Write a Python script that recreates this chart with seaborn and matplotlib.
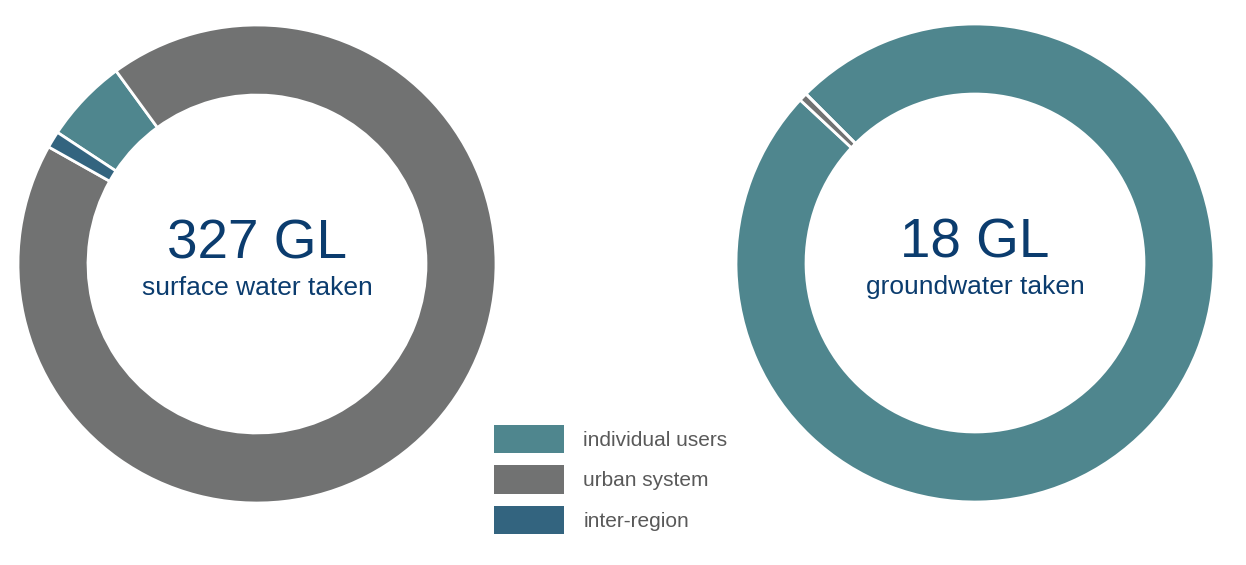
"""
Water taken by source — two donut charts with shared legend.
"""
import matplotlib
matplotlib.use('Agg')
import matplotlib.pyplot as plt
from matplotlib.patches import Patch
import seaborn as sns

# data (GL)
categories = ['individual users', 'urban system', 'inter-region']
surface_values = [18.6, 304.7, 3.7]
ground_values = [17.9, 0.1, 0.0]
totals = ['327 GL', '18 GL']
subtitles = ['surface water taken', 'groundwater taken']

sns.set_theme(style='white')
plt.rcParams['font.family'] = ['Liberation Sans', 'DejaVu Sans']
palette = sns.color_palette(['#4F868E', '#717272', '#33647F'])
text_blue = '#0B3C6E'

W, H = 1246, 565
fig = plt.figure(figsize=(W / 100, H / 100), dpi=100)
fig.patch.set_facecolor('white')


def donut(cx, cy, r, values, start, total, subtitle):
    ax = fig.add_axes([(cx - r) / W, (H - cy - r) / H, 2 * r / W, 2 * r / H])
    ax.pie(values, colors=palette, startangle=start, counterclock=False,
           radius=1, wedgeprops=dict(width=0.293, edgecolor='white', linewidth=2.0))
    ax.set_xlim(-1, 1)
    ax.set_ylim(-1, 1)
    ax.axis('off')
    ax.text(0, 0.083, total, ha='center', va='center', fontsize=39.5, color=text_blue)
    ax.text(0, -0.10, subtitle, ha='center', va='center', fontsize=19, color=text_blue)
    return ax


donut(257, 264, 239, surface_values, 146.6, totals[0], subtitles[0])
donut(975, 263, 239, ground_values, 135.0, totals[1], subtitles[1])

# legend boxes 70x28 px, rows 40 px apart
fs = 15
handles = [Patch(facecolor=c, edgecolor='none') for c in palette]
fig.legend(handles, categories, loc='upper left',
           bbox_to_anchor=(494 / W, 1 - 425 / H), frameon=False,
           fontsize=fs, labelcolor='#595959', handlelength=70 / (fs * 100 / 72),
           handleheight=1.72, handletextpad=0.92, labelspacing=0.58,
           borderpad=0, borderaxespad=0)

plt.savefig('out.png', dpi=100)
plt.close()
